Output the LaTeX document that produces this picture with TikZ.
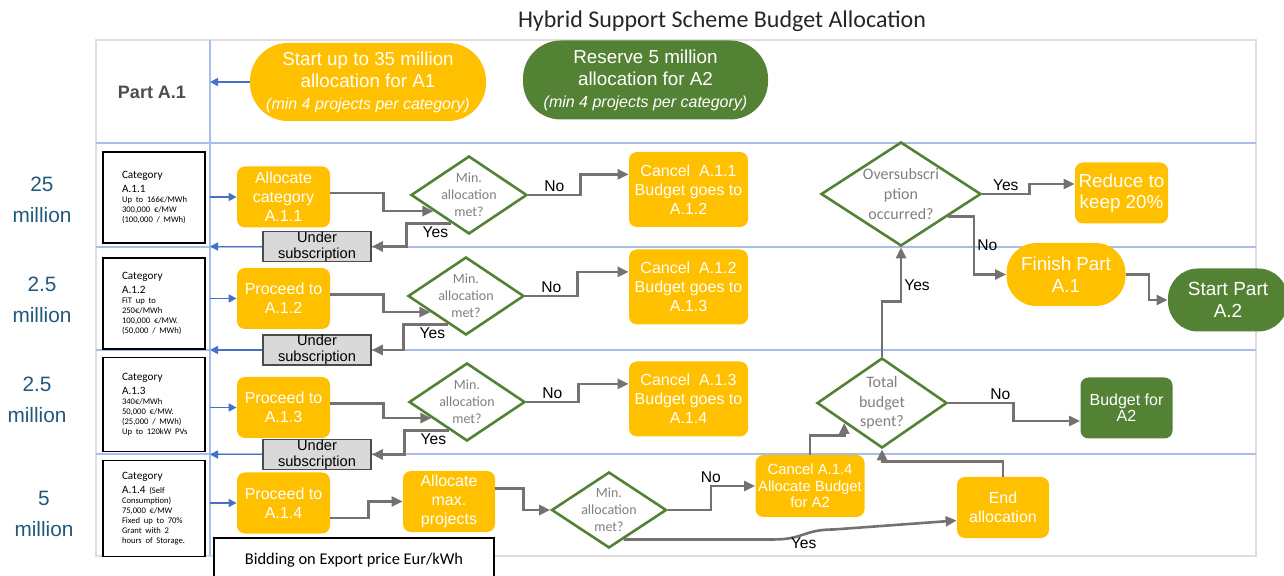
\documentclass[tikz,border=0pt]{standalone}
\usepackage{fontspec}
\setmainfont{Liberation Sans}
\newfontfamily\calfont{Carlito}
\usetikzlibrary{calc}
\usetikzlibrary{arrows.meta}
\usetikzlibrary{shapes.geometric}
\definecolor{boxyellow}{HTML}{FFC000}
\definecolor{decgreen}{HTML}{548235}
\definecolor{lanecol}{HTML}{A9BEE6}
\definecolor{arrowblue}{HTML}{4472C4}
\definecolor{flowgray}{HTML}{767171}
\definecolor{textgray}{HTML}{808080}
\definecolor{millionblue}{HTML}{1F5A7C}
\definecolor{framegray}{HTML}{DEDEDE}
\definecolor{undergray}{HTML}{D9D9D9}
\newcommand*\fsize[2]{\fontsize{#1}{#2}\selectfont}

\begin{document}
\begin{tikzpicture}
    [%
        x=0.5pt,y=-0.5pt,%
        lane/.style={draw=lanecol, line width=0.8pt},%
        blue flow/.style={%
            draw=arrowblue,%
            line width=0.8pt,%
            -{Triangle[length=4pt,width=4pt]}%
        },%
        flow/.style={%
            draw=flowgray,%
            line width=1.3pt,%
            -{Triangle[length=5.5pt,width=5pt]}%
        },%
        answer/.style={font=\fsize{7.8}{9}, text=black, inner sep=1pt},%
        process/.style={%
            fill=boxyellow,%
            rounded corners=4pt,%
            text=white,%
            align=center,%
            minimum width=46.5pt,%
            minimum height=30.5pt,%
            inner sep=1pt,%
            font=\fsize{8}{9.5}%
        },%
        pill/.style={%
            fill=boxyellow,%
            rounded corners=#1,%
            text=white,%
            align=center,%
            inner sep=1pt%
        },%
        decision/.style={%
            diamond,%
            draw=decgreen,%
            line width=1.3pt,%
            fill=white,%
            inner sep=0pt%
        },%
        decision text/.style={%
            text=textgray,%
            align=center,%
            font=\calfont\fsize{7}{8.5}%
        },%
        under box/.style={%
            draw=black!70,%
            fill=undergray,%
            line width=0.8pt,%
            align=center,%
            minimum width=54pt,%
            minimum height=14.5pt,%
            inner sep=0pt,%
            font=\fsize{7.3}{8}%
        },%
        category/.style={%
            draw=black,%
            line width=0.9pt,%
            fill=white,%
            align=left,%
            text width=40pt,%
            minimum width=51pt,%
            inner xsep=0pt,%
            font=\calfont\fsize{5.6}{6.7}%
        },%
        amount/.style={text=millionblue, align=center, font=\fsize{10.4}{15.5}}%
    ]%
%
    \useasboundingbox (0,0) rectangle (1284,576);
    % frame and swim lanes
    \draw[draw=framegray, line width=0.8pt] (96,40) rectangle (1256,556);
    \draw[lane] (210,40) -- (210,556);
    \foreach \y in {143,247,350,454}
        \draw[lane] (96,\y) -- (1256,\y);
    \coordinate (lane) at (210,40);
%
    \node[font=\calfont\fsize{12}{14}, text=black!85] (title) at (722,21)
        {Hybrid Support Scheme Budget Allocation};
    \node[font=\bfseries\fsize{9}{11}, text=black!70] (part-a1) at (152,92) {Part A.1};
    \node[pill=19pt, minimum width=118pt, minimum height=39pt, font=\fsize{9.4}{11}]
        (start-a1) at (368,82)
        {Start up to 35 million\\allocation for A1\\{\itshape\fsize{8}{11}(min 4 projects per category)}};
    \node[pill=19pt, fill=decgreen, minimum width=122.5pt, minimum height=39.5pt, font=\fsize{9.4}{11}]
        (reserve-a2) at (645.5,80)
        {Reserve 5 million\\allocation for A2\\{\itshape\fsize{8}{11}(min 4 projects per category)}};
    \draw[blue flow] (start-a1.west) -- (start-a1.west -| lane);
%
    % budget of each category
    \node[amount] (amount-1) at (42,199.5) {25\\million};
    \node[amount] (amount-2) at (42,300) {2.5\\million};
    \node[amount] (amount-3) at (37,400) {2.5\\million};
    \node[amount] (amount-4) at (44,513.5) {5\\million};
%
    % category boxes
    \node[category, minimum height=45.5pt] (cat-1) at (154,197.5)
        {\leftskip=4pt Category\\A.1.1\par\fsize{4.3}{5}Up to 166€/MWh\\300,000 €/MW\\(100,000 / MWh)\par\vspace{5pt}};
    \node[category, minimum height=45.5pt] (cat-2) at (154,303.5)
        {\leftskip=4pt Category\\A.1.2\par\fsize{4.3}{5}FiT up to\\250€/MWh\\100,000 €/MW.\\(50,000 / MWh)\par\vspace{4pt}};
    \node[category, minimum height=47pt] (cat-3) at (154,404.5)
        {\leftskip=4pt Category\\A.1.3\par\fsize{4.3}{5}340€/MWh\\50,000 €/MW.\\(25,000 / MWh)\\Up to 120kW PVs\par\vspace{4pt}};
    \node[category, minimum height=48pt] (cat-4) at (154,508.5)
        {\leftskip=4pt Category\\A.1.4 {\fsize{4.3}{5}(Self}\par\fsize{4.3}{5}Consumption)\\75,000 €/MW\\Fixed up to 70\%\\Grant with 2\\hours of Storage.\par\vspace{3pt}};
    \node[draw=black, line width=0.8pt, fill=white, minimum width=140pt, minimum height=22pt, font=\calfont\fsize{8.2}{10}]
        (bidding) at (354,560) {Bidding on Export price Eur/kWh};
%
    % rows A.1.1 to A.1.3
    % \n row, \py process y, \dx/\dy decision, \cy cancel y, \uy under subscription y
    \foreach \n/\py/\dx/\dy/\cy/\uy/\first in {%
        1/197/469/195/189.5/246.5/{Allocate\\category\\A.1.1},%
        2/298.5/466/296/287/350/{Proceed to\\A.1.2},%
        3/407.5/467/402/399/454.5/{Proceed to\\A.1.3}%
    }{
        \pgfmathtruncatemacro\m{\n+1}
        \node[process] (proc-\n) at (283.5,\py) {\first};
        \node[decision, minimum width=58pt, minimum height=39pt] (min-\n) at (\dx,\dy) {};
        \node[decision text] (min-\n-text) at (min-\n) {Min.\\allocation\\met?};
        \node[process, minimum width=59.5pt, minimum height=37.5pt] (cancel-\n) at (688.5,\cy)
            {Cancel~ A.1.\n\\Budget goes to\\A.1.\m};
        \node[under box] (under-\n) at (317,\uy) {Under\\subscription};
        % ports
        \coordinate (min-\n-in) at ($(min-\n.west)!0.4!(min-\n.south)$);
        \coordinate (min-\n-out) at ($(min-\n.south)!0.3!(min-\n.west)$);
        \coordinate (cancel-\n-in) at ($(cancel-\n.north west)!0.3!(cancel-\n.south west)$);
        % connectors
        \draw[blue flow] (proc-\n.west -| lane) -- (proc-\n.west);
        \draw[flow] ([yshift=2pt]proc-\n.east) -- ++(53,0) |- (min-\n-in);
        \draw[flow] (min-\n.east) -- node[answer, above] {No} ++(52,0) |- (cancel-\n-in);
        \draw[flow] (min-\n-out) -- node[answer, below, pos=0.35] {Yes} ++(-45,0) |- (under-\n.east);
        \draw[blue flow] (under-\n.west) -- (under-\n.west -| lane);
    } % \foreach \n
%
    % row A.1.4
    \node[process] (proc-4) at (283.5,503) {Proceed to\\A.1.4};
    \node[process, minimum width=46pt] (max-alloc) at (449,501.5) {Allocate\\max.\\projects};
    \node[decision, minimum width=57.5pt, minimum height=38pt] (min-4) at (609,510) {};
    \node[decision text] (min-4-text) at (min-4) {Min.\\allocation\\met?};
    \node[process, minimum width=54.5pt, minimum height=31pt, font=\fsize{7.4}{8.3}] (cancel-4) at (810,486)
        {Cancel A.1.4\\Allocate Budget\\for A2};
    \node[process, minimum width=46pt] (end-alloc) at (1003,507.5) {End\\allocation};
    \coordinate (min-4-out) at ($(min-4.south)!0.25!(min-4.east)$);
    \draw[blue flow] (proc-4.west -| lane) -- (proc-4.west);
    \draw[flow] ([yshift=-7.5pt]proc-4.east) -- ++(38,0) |- (max-alloc.west);
    \draw[flow] ([yshift=6.5pt]max-alloc.east) -- ++(28,0) |- (min-4.west);
    \draw[flow] (min-4.east) -- ++(43,0) |- node[answer, above, pos=0.5] {No} (cancel-4.west);
    \draw[flow] (min-4-out) -- ++(150,0) .. controls +(30,0) and +(-30,0) .. node[answer, below] {Yes}
        ++(60,-10) -- ([yshift=-6.5pt]end-alloc.west);
%
    % end of part A.1
    \node[decision, minimum width=65pt, minimum height=45pt] (total) at (882,403) {};
    \node[decision text, font=\calfont\fsize{8}{9.7}] (total-text) at (total) {Total\\budget\\spent?};
    \node[process, fill=decgreen, minimum width=46pt, font=\fsize{8}{8}] (budget-a2) at (1126.5,408)
        {Budget for\\A2};
    \node[decision, minimum width=80pt, minimum height=52pt] (oversub) at (901,194) {};
    \node[decision text, font=\calfont\fsize{8}{10}] (oversub-text) at (oversub)
        {Oversubscri\\ption\\occurred?};
    \node[process, font=\fsize{9.4}{10.8}] (reduce) at (1121.5,193) {Reduce to\\keep 20\%};
    \node[pill=15pt, minimum width=59.5pt, minimum height=31.5pt, font=\fsize{9.4}{11}]
        (finish-a1) at (1066,274.5) {Finish Part\\A.1};
    \node[pill=15pt, fill=decgreen, minimum width=60pt, minimum height=31.5pt, font=\fsize{9.5}{11}]
        (start-a2) at (1228,300) {Start Part\\A.2};
    \coordinate (total-in) at ($(total.west)!0.43!(total.south)$);
    \coordinate (oversub-out) at ($(oversub.east)!0.42!(oversub.south)$);
    \draw[flow] (cancel-4.north) -- ++(0,-19) -| (total-in);
    \draw[flow] (end-alloc.north) -- ++(0,-15) -| (total.south);
    \draw[flow] (total.east) -- node[answer, above, pos=0.8] {No} ++(65,0) |- ([yshift=-6.5pt]budget-a2.west);
    \draw[flow] (total.north) -- ++(0,-55) -| node[answer, right, pos=0.65] {Yes} (oversub.south);
    \draw[flow] (oversub.east) -- node[answer, above] {Yes} ++(47,0) |- ([yshift=4.5pt]reduce.west);
    \draw[flow] (oversub-out) -- ++(26,0) |- node[answer, right, pos=0.25] {No} (finish-a1.west);
    \draw[flow] (finish-a1.east) -- ++(23,0) |- (start-a2.west);
\end{tikzpicture}
\end{document}
